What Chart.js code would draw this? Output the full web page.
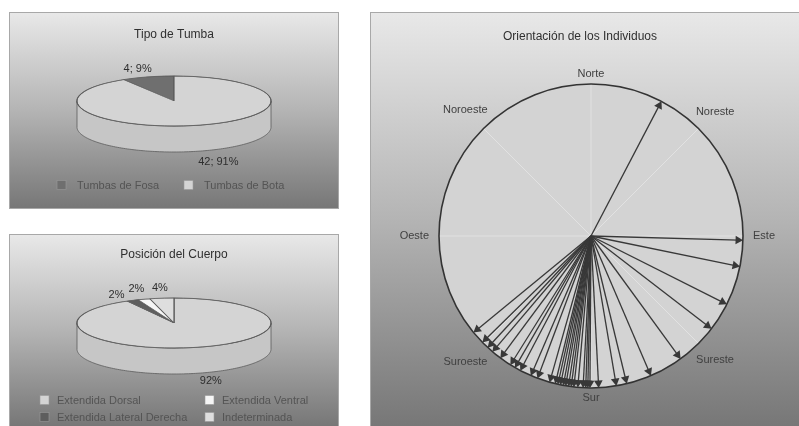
<!DOCTYPE html>
<html>
<head>
<meta charset="utf-8">
<script src="https://cdn.jsdelivr.net/npm/chart.js@4.4.0/dist/chart.umd.min.js"></script>
<style>
  html, body { margin: 0; padding: 0; background: #fff; }
  body { width: 799px; height: 426px; position: relative; overflow: hidden; }
  .panel {
    position: absolute; box-sizing: border-box; border: 1px solid #a8a8a8;
    background: linear-gradient(to bottom, #e8e8e8 0%, #b4b4b4 50%, #777 100%);
  }
  #p1 { left: 9px; top: 12px; width: 330px; height: 197px; }
  #p2 { left: 9px; top: 234px; width: 330px; height: 192px; border-bottom: none; }
  #p3 { left: 370px; top: 12px; width: 429px; height: 414px; border-right: none; border-bottom: none; }
  canvas { display: block; }
</style>
</head>
<body>
<div class="panel" id="p1"><canvas id="tumbaChart" width="328" height="195"></canvas></div>
<div class="panel" id="p2"><canvas id="posicionChart" width="328" height="191"></canvas></div>
<div class="panel" id="p3"><canvas id="orientacionChart" width="428" height="413"></canvas></div>
<script>
// Tipo de Tumba
const tumbaLabels = ["Tumbas de Fosa", "Tumbas de Bota"];
const tumbaValues = [4, 42];

// Posición del Cuerpo (porcentajes)
const posicionLabels = ["Extendida Dorsal", "Extendida Lateral Derecha", "Extendida Ventral", "Indeterminada"];
const posicionValues = [92, 2, 2, 4];

// Orientación de los Individuos: rumbo de cada individuo en grados (0 = Norte, sentido horario)
const rumbos = [27.6, 91.6, 101.6, 116.7, 127.6, 143.9, 156.8, 166.4, 170.4, 177.1,
  180.4, 181.2, 182, 183, 185, 186.5, 187.5, 188.5, 189.6, 190.5, 191.6, 192.6,
  193.6, 195.8, 200.6, 203.3, 207.7, 210, 212, 216.6, 220.4, 222.8, 225.6, 230.6];
const puntosCardinales = ["Norte", "Noreste", "Este", "Sureste", "Sur", "Suroeste", "Oeste", "Noroeste"];

const FONT = '"Liberation Sans", Arial, sans-serif';

// Pastel en 3D: aplana el pastel y dibuja el canto
function pie3d(cfg) {
  return {
    id: 'pie3d',
    beforeDatasetsDraw(chart) {
      const ctx = chart.ctx;
      const arcs = chart.getDatasetMeta(0).data;
      arcs.forEach((arc, i) => {
        const { startAngle, endAngle } = arc.getProps(['startAngle', 'endAngle'], true);
        [-2 * Math.PI, 0, 2 * Math.PI].forEach((k) => {
          const a = Math.max(startAngle, k), b = Math.min(endAngle, k + Math.PI);
          if (a >= b) return;
          const steps = Math.max(2, Math.ceil((b - a) * 40));
          ctx.beginPath();
          for (let s = 0; s <= steps; s++) {
            const t = a + (b - a) * s / steps;
            const px = cfg.cx + cfg.rx * Math.cos(t), py = cfg.cy + cfg.ry * Math.sin(t);
            if (s === 0) ctx.moveTo(px, py); else ctx.lineTo(px, py);
          }
          for (let s = steps; s >= 0; s--) {
            const t = a + (b - a) * s / steps;
            ctx.lineTo(cfg.cx + cfg.rx * Math.cos(t), cfg.cy + cfg.ry * Math.sin(t) + cfg.depth);
          }
          ctx.closePath();
          ctx.fillStyle = cfg.sideColors[i];
          ctx.fill();
          ctx.strokeStyle = cfg.edge;
          ctx.lineWidth = 0.8;
          ctx.stroke();
        });
      });
      const { x, y, outerRadius } = arcs[0].getProps(['x', 'y', 'outerRadius'], true);
      ctx.save();
      ctx.translate(cfg.cx, cfg.cy);
      ctx.scale(cfg.rx / outerRadius, cfg.ry / outerRadius);
      ctx.translate(-x, -y);
    },
    afterDatasetsDraw(chart) {
      const ctx = chart.ctx;
      ctx.restore();
      ctx.beginPath();
      ctx.ellipse(cfg.cx, cfg.cy, cfg.rx, cfg.ry, 0, 0, 2 * Math.PI);
      ctx.strokeStyle = cfg.edge;
      ctx.lineWidth = 0.8;
      ctx.stroke();

      // etiquetas de datos
      const values = chart.data.datasets[0].data;
      const total = values.reduce((s, v) => s + v, 0);
      ctx.font = '11px ' + FONT;
      ctx.fillStyle = '#2e2e2e';
      ctx.textAlign = 'center';
      ctx.textBaseline = 'middle';
      chart.getDatasetMeta(0).data.forEach((arc, i) => {
        const { startAngle, endAngle } = arc.getProps(['startAngle', 'endAngle'], true);
        const mid = (startAngle + endAngle) / 2;
        const f = cfg.labelFactor;
        const nudge = cfg.nudges[i] || [0, 0];
        const px = cfg.cx + cfg.rx * f * Math.cos(mid) + nudge[0];
        const py = cfg.cy + cfg.ry * f * Math.sin(mid) + (Math.sin(mid) > 0 ? cfg.depth : 0) + nudge[1];
        const pct = Math.round(values[i] / total * 100) + '%';
        const text = cfg.showValue ? values[i] + '; ' + pct : pct;
        ctx.fillText(text, px, py);
      });
    }
  };
}

// Leyenda en cuadrícula como en el original
function gridLegend(items, gap) {
  return {
    id: 'gridLegend',
    afterDraw(chart) {
      const ctx = chart.ctx;
      const ds = chart.data.datasets[0];
      ctx.save();
      ctx.font = '11px ' + FONT;
      ctx.textAlign = 'left';
      ctx.textBaseline = 'middle';
      items.forEach((it) => {
        ctx.fillStyle = ds.backgroundColor[it.i];
        ctx.fillRect(it.x, it.y - 4.5, 9, 9);
        ctx.strokeStyle = '#9a9a9a';
        ctx.lineWidth = 0.6;
        ctx.strokeRect(it.x, it.y - 4.5, 9, 9);
        ctx.fillStyle = '#545454';
        ctx.fillText(chart.data.labels[it.i], it.x + gap, it.y + 0.5);
      });
      ctx.restore();
    }
  };
}

function pieOptions(title, titleTop, rotation) {
  return {
    responsive: false,
    animation: false,
    rotation: rotation,
    plugins: {
      legend: { display: false },
      tooltip: { enabled: false },
      title: {
        display: true, text: title, color: '#303030',
        font: { family: FONT, size: 12, weight: 'normal' },
        padding: { top: titleTop, bottom: 6 }
      }
    }
  };
}

// Gráfico 1: Tipo de Tumba
const totalTumbas = tumbaValues.reduce((s, v) => s + v, 0);
new Chart(document.getElementById('tumbaChart'), {
  type: 'pie',
  data: {
    labels: tumbaLabels,
    datasets: [{
      data: tumbaValues,
      backgroundColor: ['#6f6f6f', '#d4d4d4'],
      borderColor: '#5c5c5c', borderWidth: 1, clip: false
    }]
  },
  options: pieOptions('Tipo de Tumba', 14, -360 * tumbaValues[0] / totalTumbas),
  plugins: [
    pie3d({ cx: 164, cy: 88, rx: 97, ry: 25, depth: 26, edge: '#5c5c5c',
      sideColors: ['#5a5a5a', '#c6c6c6'], labelFactor: 1.35, showValue: true,
      nudges: [[-1, 0], [9, 2]] }),
    gridLegend([{ i: 0, x: 47, y: 172 }, { i: 1, x: 174, y: 172 }], 20)
  ]
});

// Gráfico 2: Posición del Cuerpo
new Chart(document.getElementById('posicionChart'), {
  type: 'pie',
  data: {
    labels: posicionLabels,
    datasets: [{
      data: posicionValues,
      backgroundColor: ['#d4d4d4', '#5e5e5e', '#f6f6f6', '#dedede'],
      borderColor: '#5c5c5c', borderWidth: 1, clip: false
    }]
  },
  options: pieOptions('Posición del Cuerpo', 12, 0),
  plugins: [
    pie3d({ cx: 164, cy: 88, rx: 97, ry: 25, depth: 26, edge: '#5c5c5c',
      sideColors: ['#c6c6c6', '#4c4c4c', '#e6e6e6', '#cecece'], labelFactor: 1.32, showValue: false,
      nudges: [[5, 0], [-3, 2], [2, -3], [2, -2]] }),
    gridLegend([
      { i: 0, x: 30, y: 165 }, { i: 2, x: 195, y: 165 },
      { i: 1, x: 30, y: 182 }, { i: 3, x: 195, y: 182 }
    ], 17)
  ]
});

// Gráfico 3: Orientación de los Individuos
const rosa = {
  id: 'rosa',
  beforeDatasetsDraw(chart) {
    const ctx = chart.ctx;
    const xs = chart.scales.x, ys = chart.scales.y;
    const cx = xs.getPixelForValue(0), cy = ys.getPixelForValue(0);
    const R = xs.getPixelForValue(1) - cx;
    ctx.save();
    ctx.beginPath();
    ctx.arc(cx, cy, R, 0, 2 * Math.PI);
    ctx.fillStyle = '#d3d3d3';
    ctx.fill();
    // líneas tenues de los puntos cardinales
    ctx.strokeStyle = 'rgba(255,255,255,0.35)';
    ctx.lineWidth = 1;
    puntosCardinales.forEach((p, i) => {
      const a = i * Math.PI / 4;
      ctx.beginPath();
      ctx.moveTo(cx, cy);
      ctx.lineTo(cx + R * Math.sin(a), cy - R * Math.cos(a));
      ctx.stroke();
    });
    ctx.beginPath();
    ctx.arc(cx, cy, R, 0, 2 * Math.PI);
    ctx.strokeStyle = '#333';
    ctx.lineWidth = 1.6;
    ctx.stroke();
    // nombres de los puntos cardinales
    ctx.font = '11px ' + FONT;
    ctx.fillStyle = '#404040';
    ctx.textAlign = 'center';
    ctx.textBaseline = 'middle';
    puntosCardinales.forEach((p, i) => {
      const a = i * Math.PI / 4;
      const w = ctx.measureText(p).width;
      const d = R + 10 + (w / 2) * Math.abs(Math.sin(a));
      ctx.fillText(p, cx + d * Math.sin(a), cy - d * Math.cos(a));
    });
    ctx.restore();
  }
};

const puntaR = 0.968;
const flechas = rumbos.map((b) => {
  const rad = b * Math.PI / 180;
  return {
    data: [{ x: 0, y: 0 }, { x: puntaR * Math.sin(rad), y: puntaR * Math.cos(rad) }],
    showLine: true,
    borderColor: '#383838',
    borderWidth: 1.3,
    pointRadius: [0, 5],
    pointStyle: 'triangle',
    pointRotation: b,
    pointBackgroundColor: '#383838',
    pointBorderColor: '#383838',
    pointBorderWidth: 0,
    clip: false
  };
});

new Chart(document.getElementById('orientacionChart'), {
  type: 'scatter',
  data: { datasets: flechas },
  options: {
    responsive: false,
    animation: false,
    layout: { padding: { left: 10, right: 20, top: 0, bottom: 38 } },
    scales: {
      x: { type: 'linear', min: -1.3816, max: 1.2368, bounds: 'data', display: false },
      y: { type: 'linear', min: -1, max: 1, bounds: 'data', display: false }
    },
    plugins: {
      legend: { display: false },
      tooltip: { enabled: false },
      title: {
        display: true, text: 'Orientación de los Individuos', color: '#303030',
        font: { family: FONT, size: 12, weight: 'normal' },
        padding: { top: 16.8, bottom: 39.8 }
      }
    }
  },
  plugins: [rosa]
});
</script>
</body>
</html>
